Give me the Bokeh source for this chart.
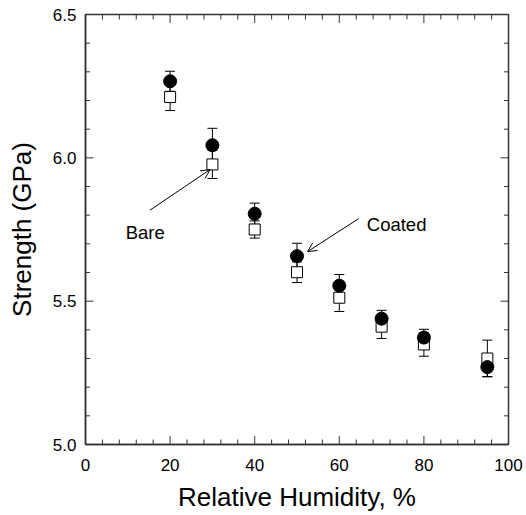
import numpy as np
from bokeh.plotting import figure
from bokeh.models import (ColumnDataSource, Whisker, TeeHead, Arrow, OpenHead, Label,
                          SingleIntervalTicker, Range1d, PrintfTickFormatter)
from bokeh.embed import file_html
from bokeh.resources import INLINE

# ---- data ----
humidity = [20, 30, 40, 50, 60, 70, 80, 95]
coated = [6.267, 6.044, 5.805, 5.657, 5.554, 5.439, 5.373, 5.270]
coated_err = [0.035, 0.059, 0.037, 0.045, 0.039, 0.029, 0.029, 0.033]
bare = [6.212, 5.977, 5.750, 5.601, 5.512, 5.411, 5.349, 5.300]
bare_err = [0.047, 0.049, 0.030, 0.036, 0.048, 0.041, 0.041, 0.064]

x_lim = [0, 100]
y_lim = [5.0, 6.5]
x_interval = 20
y_interval = 0.5
n_minor = 5

# annotation anchors (data units)
bare_text = (9.5, 5.739)
bare_arrow = (15.2, 5.817, 29.45, 5.959)
coated_text = (66.5, 5.768)
coated_arrow = (64.6, 5.788, 52.5, 5.673)

FONT = "Liberation Sans"
AX = "#333333"

p = figure(width=526, height=515, x_range=Range1d(*x_lim), y_range=Range1d(*y_lim),
           output_backend="svg", toolbar_location=None,
           min_border_left=85, min_border_right=18, min_border_top=14, min_border_bottom=71,
           x_axis_label="Relative Humidity, %", y_axis_label="Strength (GPa)")
p.grid.visible = False
p.outline_line_color = AX
p.outline_line_width = 1.5
p.background_fill_color = "white"
p.border_fill_color = "white"


def style(ax):
    ax.axis_line_color = AX
    ax.axis_line_width = 1.5
    ax.major_tick_in = 0
    ax.major_tick_out = 0
    ax.minor_tick_in = 0
    ax.minor_tick_out = 0
    ax.major_tick_line_color = None
    ax.minor_tick_line_color = None
    ax.major_label_text_font = FONT
    ax.major_label_text_font_size = "17px"
    ax.major_label_text_color = "black"
    ax.axis_label_text_font = FONT
    ax.axis_label_text_font_size = "26px"
    ax.axis_label_text_font_style = "normal"
    ax.axis_label_text_color = "black"


xb = p.xaxis[0]
yl = p.yaxis[0]
xb.ticker = SingleIntervalTicker(interval=x_interval, num_minor_ticks=n_minor)
yl.ticker = SingleIntervalTicker(interval=y_interval, num_minor_ticks=n_minor)
yl.formatter = PrintfTickFormatter(format="%.1f")
style(xb)
style(yl)
xb.major_label_standoff = 14
xb.axis_label_standoff = 8
yl.major_label_standoff = 9
yl.axis_label_standoff = 13

# inward tick marks on all four sides (clipped to the frame, so only the inner half shows)
x_major = np.arange(x_lim[0], x_lim[1] + 1e-9, x_interval)
x_all = np.arange(x_lim[0], x_lim[1] + 1e-9, x_interval / n_minor)
x_minor = [v for v in x_all if min(abs(v - m) for m in x_major) > 1e-6]
y_major = np.arange(y_lim[0], y_lim[1] + 1e-9, y_interval)
y_all = np.arange(y_lim[0], y_lim[1] + 1e-9, y_interval / n_minor)
y_minor = [v for v in y_all if min(abs(v - m) for m in y_major) > 1e-6]

for xs, size in ((list(x_major), 17), (x_minor, 10)):
    for yv in y_lim:
        p.scatter(xs, [yv] * len(xs), marker="dash", angle=np.pi / 2, size=size,
                  line_color=AX, line_width=1)
for ys, size in ((list(y_major), 16), (y_minor, 9)):
    for xv in x_lim:
        p.scatter([xv] * len(ys), ys, marker="dash", size=size, line_color=AX, line_width=1)

src = ColumnDataSource(dict(
    x=humidity,
    coated=coated,
    c_lo=[v - e for v, e in zip(coated, coated_err)],
    c_hi=[v + e for v, e in zip(coated, coated_err)],
    bare=bare,
    b_lo=[v - e for v, e in zip(bare, bare_err)],
    b_hi=[v + e for v, e in zip(bare, bare_err)],
))

for lo, hi in (("c_lo", "c_hi"), ("b_lo", "b_hi")):
    w = Whisker(source=src, base="x", lower=lo, upper=hi, line_color="black", line_width=1,
                upper_head=TeeHead(size=10, line_color="black", line_width=1),
                lower_head=TeeHead(size=10, line_color="black", line_width=1),
                level="underlay")
    p.add_layout(w)

p.scatter("x", "bare", source=src, marker="square", size=11, fill_color="white",
          line_color="black", line_width=1)
p.scatter("x", "coated", source=src, marker="circle", size=13, fill_color="black",
          line_color="black", line_width=1)

p.add_layout(Arrow(end=OpenHead(size=9, line_width=1, line_color="black"),
                   x_start=bare_arrow[0], y_start=bare_arrow[1],
                   x_end=bare_arrow[2], y_end=bare_arrow[3], line_width=1, line_color="black"))
p.add_layout(Arrow(end=OpenHead(size=9, line_width=1, line_color="black"),
                   x_start=coated_arrow[0], y_start=coated_arrow[1],
                   x_end=coated_arrow[2], y_end=coated_arrow[3], line_width=1, line_color="black"))
p.add_layout(Label(x=bare_text[0], y=bare_text[1], text="Bare", text_font=FONT,
                   text_font_size="18.5px", text_baseline="alphabetic", text_align="left",
                   text_color="black"))
p.add_layout(Label(x=coated_text[0], y=coated_text[1], text="Coated", text_font=FONT,
                   text_font_size="18.5px", text_baseline="alphabetic", text_align="left",
                   text_color="black"))

open("out.html", "w").write(file_html(p, INLINE))
